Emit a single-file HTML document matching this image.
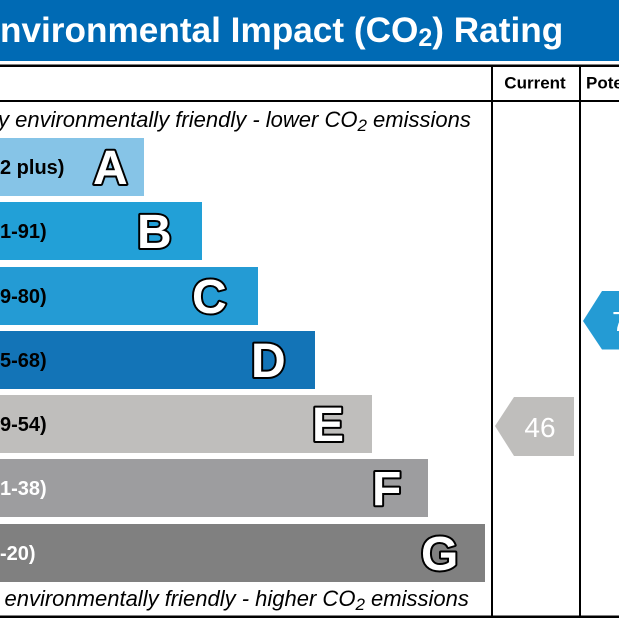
<!DOCTYPE html>
<html><head><meta charset="utf-8"><style>
html,body{margin:0;padding:0;background:#fff;width:619px;height:619px;overflow:hidden}
svg{display:block}
text{font-family:"Liberation Sans",Arial,sans-serif}
</style></head><body>
<svg width="619" height="619" viewBox="0 0 619 619" xmlns="http://www.w3.org/2000/svg">
<rect x="0" y="0" width="619" height="61" fill="#006ab4"/>
<text x="-23.5" y="42" font-size="35.2" font-weight="bold" fill="#fff">Environmental Impact (CO<tspan font-size="25" dy="4">2</tspan><tspan dy="-4">) Rating</tspan></text>
<rect x="0" y="64.5" width="619" height="2.5" fill="#000"/>
<rect x="0" y="100" width="619" height="2" fill="#000"/>
<rect x="0" y="615.5" width="619" height="2.5" fill="#000"/>
<rect x="491" y="65" width="2" height="552" fill="#000"/>
<rect x="579" y="65" width="2" height="552" fill="#000"/>
<text x="535" y="88.5" font-size="17" font-weight="bold" fill="#000" text-anchor="middle">Current</text>
<text x="586" y="88.5" font-size="17" font-weight="bold" fill="#000">Potential</text>
<text x="-2" y="127" font-size="22" font-style="italic" fill="#000">y environmentally friendly - lower CO<tspan font-size="17" dy="4">2</tspan><tspan dy="-4"> emissions</tspan></text>
<text x="4.5" y="606" font-size="22" font-style="italic" fill="#000">environmentally friendly - higher CO<tspan font-size="17" dy="4">2</tspan><tspan dy="-4"> emissions</tspan></text>
<g font-weight="bold">
<rect x="0" y="138" width="144" height="58" fill="#86c4e7"/>
<text x="-17.8" y="174" font-size="20" fill="#000">(92 plus)</text>
<rect x="0" y="202" width="202" height="58" fill="#22a0d7"/>
<text x="-17.8" y="238" font-size="20" fill="#000">(81-91)</text>
<rect x="0" y="267" width="258" height="58" fill="#249bd4"/>
<text x="-17.8" y="303" font-size="20" fill="#000">(69-80)</text>
<rect x="0" y="331" width="315" height="58" fill="#1374b7"/>
<text x="-17.8" y="367" font-size="20" fill="#000">(55-68)</text>
<rect x="0" y="395" width="372" height="58" fill="#bfbebc"/>
<text x="-17.8" y="431" font-size="20" fill="#000">(39-54)</text>
<rect x="0" y="459" width="428" height="58" fill="#9d9d9f"/>
<text x="-17.8" y="495" font-size="20" fill="#fff">(21-38)</text>
<rect x="0" y="524" width="485" height="58" fill="#808080"/>
<text x="-17.8" y="560" font-size="20" fill="#fff">(1-20)</text>
</g>
<g font-weight="bold" font-size="48" fill="#fff" stroke="#000" stroke-width="4" stroke-linejoin="round" paint-order="stroke">
<text x="93" y="184">A</text>
<text x="137" y="248">B</text>
<text x="192" y="313">C</text>
<text x="251" y="377">D</text>
<text x="312" y="441">E</text>
<text x="372" y="505">F</text>
<text x="421" y="570">G</text>
</g>
<polygon points="495,426 514,397 574,397 574,456 514,456" fill="#bfbebc"/>
<text x="540" y="437" font-size="28" fill="#fff" text-anchor="middle">46</text>
<polygon points="583,321 602,291 625,291 625,349.5 602,349.5" fill="#249bd4"/>
<text x="612" y="331" font-size="28" fill="#fff">72</text>
</svg>
</body></html>
